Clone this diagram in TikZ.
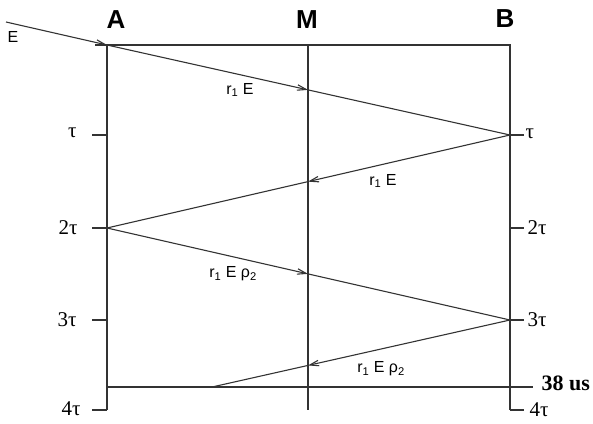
\documentclass[tikz,border=0pt]{standalone}
\usepackage{fontspec}
\setmainfont{Liberation Serif}
\setsansfont{Liberation Sans}
\usetikzlibrary{arrows.meta}
\begin{document}
\begin{tikzpicture}[x=1pt,y=-1pt,
  ln/.style={line width=1.1pt,draw=black!80},
  ray/.style={ln,-{Straight Barb[length=9pt,width=5.5pt]}},
  col/.style={font=\sffamily\bfseries\fontsize{26}{26}\selectfont},
  tlab/.style={font=\fontsize{21}{21}\selectfont},
  rlab/.style={font=\sffamily\fontsize{16}{16}\selectfont},
  ulab/.style={font=\bfseries\fontsize{22}{22}\selectfont}]
\useasboundingbox (0,0) rectangle (593,423);
% frame coordinates
\coordinate (At) at (107,45);
\coordinate (Ab) at (107,410);
\coordinate (Mt) at (308,45);
\coordinate (Mb) at (308,410);
\coordinate (Bt) at (510,45);
\coordinate (Bb) at (510,410);
\coordinate (Tl) at (95,45);
\coordinate (A2) at (107,228);
\coordinate (B1) at (510,135);
\coordinate (B3) at (510,320);
\coordinate (U0) at (107,387);
\coordinate (U1) at (533,387);
\coordinate (R4) at (212,387);
\coordinate (E0) at (6,22);
% main lines
\draw[ln] (Tl) -- (Bt) -- (Bb);
\draw[ln] (At) -- (Ab);
\draw[ln] (Mt) -- (Mb);
\draw[ln] (U0) -- (U1);
% ticks left
\foreach \y/\n in {135/1,228/2,320/3,410/4}{
  \coordinate (L\n) at (92,\y);
  \draw[ln] (L\n) -- (107,\y);
}
\foreach \y/\n in {135/1,228/2,320/3,410/4}{
  \coordinate (Q\n) at (524,\y);
  \draw[ln] (510,\y) -- (Q\n);
}
% crossing points on M
\coordinate (X1) at (intersection of At--B1 and Mt--Mb);
\coordinate (X2) at (intersection of B1--A2 and Mt--Mb);
\coordinate (X3) at (intersection of A2--B3 and Mt--Mb);
\coordinate (X4) at (intersection of B3--R4 and Mt--Mb);
% rays
\draw[ray] (E0) -- (At);
\draw[ray] (At) -- (X1);
\draw[ln] (X1) -- (B1);
\draw[ray] (B1) -- (X2);
\draw[ln] (X2) -- (A2);
\draw[ray] (A2) -- (X3);
\draw[ln] (X3) -- (B3);
\draw[ray] (B3) -- (X4);
\draw[ln] (X4) -- (R4);
% labels
\node[col] (la) at (116,20) {A};
\node[col] (lm) at (307,20) {M};
\node[col] (lb) at (505,19) {B};
\node[rlab] (le) at (13,37) {E};
\node[tlab,anchor=east] (t1) at (80,133) {τ};
\node[tlab,anchor=east] (t2) at (81,228) {2τ};
\node[tlab,anchor=east] (t3) at (80,320) {3τ};
\node[tlab,anchor=east] (t4) at (84,409) {4τ};
\node[tlab,anchor=west] (s1) at (522,134) {τ};
\node[tlab,anchor=west] (s2) at (524,228) {2τ};
\node[tlab,anchor=west] (s3) at (524,320) {3τ};
\node[tlab,anchor=west] (s4) at (526,410) {4τ};
\node[ulab,anchor=west] (us) at (538,383) {38 us};
\node[rlab] (r1) at (240,90) {r\textsubscript{1} E};
\node[rlab] (r2) at (383,181) {r\textsubscript{1} E};
\node[rlab] (r3) at (233,274) {r\textsubscript{1} E ρ\textsubscript{2}};
\node[rlab] (r4) at (381,369) {r\textsubscript{1} E ρ\textsubscript{2}};
\end{tikzpicture}
\end{document}
